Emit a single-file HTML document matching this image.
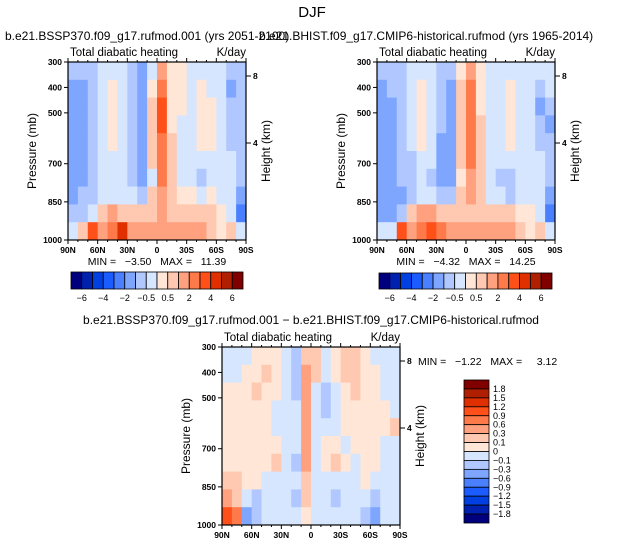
<!DOCTYPE html>
<html><head><meta charset="utf-8"><style>
body{margin:0;background:#fff;width:625px;height:545px;overflow:hidden}
svg{display:block}
text{font-family:"Liberation Sans",sans-serif;fill:#000}
</style></head><body>
<svg id="s" width="625" height="545"></svg>
<script>
const lats=["85N","75N","65N","55N","45N","35N","25N","15N","5N","5S","15S","25S","35S","45S","55S","65S","75S","85S"];
const presTicks=[300,400,500,700,850,1000];
const latTicks=["90N","60N","30N","0","30S","60S","90S"];
const levelsAbs=[-6,-5,-4,-3,-2,-1,-0.5,0,0.5,1,2,3,4,5,6];
const levelsAbsLabels=["-6","-4","-2","-0.5","0.5","2","4","6"];
const levelsDiff=[-1.8,-1.5,-1.2,-0.9,-0.6,-0.3,-0.1,0,0.1,0.3,0.6,0.9,1.2,1.5,1.8];
const levelsDiffLabels=["1.8","1.5","1.2","0.9","0.6","0.3","0.1","0","-0.1","-0.3","-0.6","-0.9","-1.2","-1.5","-1.8"];
const palette=["#00007f","#0020b0","#0040e0","#1a5cff","#4a80ff","#7ea6ff","#b0c8ff","#d6e6ff","#ffe6d6","#ffc8b0","#ffa07e","#ff7a4a","#ff501a","#e03000","#b02000","#800000"];
const ssp=[
[-0.7,-0.7,-0.7,-0.3,-0.3,-0.3,-0.7,-1.5,-0.3,1.5,0.3,0.3,-0.3,-0.3,-0.3,-0.3,-0.7,-0.7],
[-1.5,-1.5,-0.7,-0.3,0.3,-0.3,-0.7,-1.5,0.3,2.5,0.3,0.3,-0.3,0.3,-0.3,-0.3,-1.5,-0.7],
[-1.5,-1.5,-0.7,-0.3,0.3,-0.3,-0.7,-1.5,0.7,3.5,0.3,0.3,-0.3,0.3,0.3,-0.3,-0.7,-0.7],
[-1.5,-1.5,-0.7,-0.3,0.3,-0.3,-0.7,-1.5,0.7,3.5,0.3,-0.3,-0.3,0.3,0.3,-0.3,-0.7,-0.7],
[-1.5,-1.5,-0.7,-0.3,0.3,-0.3,-0.7,-1.5,0.7,2.5,0.7,-0.3,-0.3,0.3,0.3,-0.3,-0.7,-0.7],
[-1.5,-1.5,-0.7,-0.3,-0.3,-0.3,-0.7,-1.5,0.7,2.5,0.7,-0.3,-0.3,-0.3,-0.3,-0.3,-0.3,-0.7],
[-1.5,-1.5,-0.7,-0.3,-0.3,-0.3,-0.7,-1.5,-0.3,2.5,0.7,-0.3,-0.3,-0.7,-0.3,-0.3,-0.3,-0.7],
[-1.5,-0.7,-0.7,-0.3,-0.3,-0.3,-0.3,-0.7,0.7,1.5,0.7,0.3,0.3,-0.3,0.3,-0.3,-0.3,-1.5],
[-0.7,-0.7,-0.3,0.7,1.5,0.7,0.7,0.7,0.7,1.5,0.7,0.7,0.7,0.7,0.7,0.3,-0.3,-2.5],
[-0.3,0.7,3.5,1.5,2.5,4.5,1.5,1.5,1.5,1.5,1.5,1.5,1.5,1.5,0.7,0.3,0.7,-0.3]];
const hist=[
[-0.7,-0.7,-0.7,-0.3,-0.3,-0.3,-0.7,-0.7,0.3,1.5,0.3,-0.3,-0.3,-0.3,-0.3,-0.3,-0.3,-0.3],
[-1.5,-0.7,-0.7,-0.3,0.3,-0.3,-0.7,-1.5,0.7,2.5,0.3,-0.3,-0.3,0.3,-0.3,-0.3,-0.7,-0.3],
[-1.5,-1.5,-0.7,-0.3,0.3,-0.3,-0.7,-1.5,0.7,2.5,0.3,-0.3,-0.3,0.3,-0.3,-0.3,-1.5,-0.7],
[-1.5,-1.5,-0.7,-0.3,0.3,-0.3,-0.7,-1.5,0.7,2.5,0.7,-0.3,-0.3,0.3,-0.3,-0.3,-0.7,-1.5],
[-1.5,-1.5,-0.7,-0.3,0.3,-0.3,-1.5,-1.5,0.7,2.5,0.7,-0.3,-0.3,0.3,-0.3,-0.3,-0.7,-0.7],
[-1.5,-1.5,-0.7,-0.7,-0.3,-0.3,-1.5,-1.5,0.7,2.5,0.7,-0.3,-0.3,-0.3,-0.3,-0.3,-0.3,-0.7],
[-1.5,-1.5,-0.7,-0.7,-0.3,-0.7,-1.5,-1.5,0.3,1.5,0.7,-0.3,-0.7,-0.7,-0.3,-0.3,-0.3,-0.7],
[-1.5,-1.5,-1.5,-0.7,-0.3,-0.3,-0.7,-0.7,0.7,1.5,0.7,-0.3,-0.3,-0.7,-0.3,-0.3,-0.3,-1.5],
[-1.5,-1.5,-0.7,0.7,1.5,1.5,0.7,0.7,0.7,0.7,0.7,0.7,0.7,0.7,0.3,0.3,-0.3,-2.5],
[-0.3,-0.3,3.5,1.5,2.5,3.5,2.5,1.5,1.5,1.5,1.5,1.5,1.5,1.5,0.7,0.3,0.7,-0.3]];
const diff=[
[-0.05,-0.05,-0.05,0.05,0.05,0.05,-0.05,-0.2,0.2,0.2,-0.05,0.05,0.2,0.2,0.05,-0.05,-0.05,-0.05],
[-0.05,-0.05,0.05,0.05,0.2,0.05,-0.05,-0.2,0.4,0.2,-0.05,0.05,0.2,0.2,0.05,0.05,-0.05,-0.05],
[0.05,0.05,0.05,0.2,0.05,0.05,-0.05,-0.2,0.4,-0.05,-0.2,-0.05,0.05,0.2,0.05,0.05,-0.05,-0.05],
[0.05,0.05,0.05,0.05,0.05,-0.05,-0.05,-0.05,0.4,-0.05,-0.2,-0.05,0.05,0.05,0.05,0.05,0.05,-0.05],
[0.05,0.05,0.05,0.05,0.05,-0.05,-0.05,-0.05,0.4,-0.05,-0.05,-0.05,0.05,0.05,0.05,0.05,0.05,0.2],
[0.05,0.05,0.05,0.05,0.05,0.05,-0.05,-0.05,0.4,-0.05,0.05,0.05,-0.05,0.05,0.05,0.05,-0.05,-0.05],
[0.05,0.05,0.05,0.05,0.05,0.2,-0.05,-0.2,0.4,-0.05,0.05,0.2,0.05,-0.05,0.05,0.05,-0.05,-0.05],
[0.2,0.2,0.05,0.05,-0.05,-0.05,-0.05,-0.05,0.2,-0.05,-0.05,-0.05,-0.05,-0.05,0.05,-0.05,-0.05,-0.05],
[0.4,0.2,-0.05,-0.2,-0.05,-0.05,-0.05,-0.2,0.2,-0.05,-0.05,-0.2,-0.05,-0.05,-0.05,-0.2,-0.05,-0.05],
[1.0,0.7,-0.4,-0.2,-0.05,-0.05,-0.05,-0.05,0.05,-0.05,-0.05,-0.05,-0.05,-0.05,-0.2,-0.4,-0.05,-0.05]];

const NS="http://www.w3.org/2000/svg";
const svg=document.getElementById('s');
function mk(tag,attrs,parent){const e=document.createElementNS(NS,tag);for(const k in attrs)e.setAttribute(k,attrs[k]);(parent||svg).appendChild(e);return e;}
function txt(x,y,s,size,anchor,name,parent,rot){const t=mk('text',{x:x,y:y,'font-size':size,'text-anchor':anchor||'start'},parent);if(rot)t.setAttribute('transform','rotate(-90 '+x+' '+y+')');t.textContent=s;

return t;}
function colorFor(v,lev){let i=0;while(i<lev.length&&v>=lev[i])i++;return palette[i];}

function panel(px,py,data,lev,id){
  const W=178,H=178;
  const g=mk('g',{});
  
  
  const xs=lat=>px+(90-lat)/180*W;
  const ys=p=>py+(p-300)/700*H;
  const nr=data.length,nc=lats.length;
  for(let r=0;r<nr;r++)for(let c=0;c<nc;c++){
    const p0=300+r*700/nr,p1=300+(r+1)*700/nr;
    const l0=90-c*180/nc,l1=90-(c+1)*180/nc;
    const rc=mk('rect',{x:xs(l0),y:ys(p0),width:xs(l1)-xs(l0)+0.5,height:ys(p1)-ys(p0)+0.5,fill:colorFor(data[r][c],lev)},g);
    
    
  }
  mk('rect',{x:px,y:py,width:W,height:H,fill:'none',stroke:'#000','stroke-width':1.2},g);
  presTicks.forEach(p=>{const y=ys(p);mk('line',{x1:px-4,y1:y,x2:px,y2:y,stroke:'#000'},g);txt(px-6,y+3,String(p),8.5,'end','pressure-tick-label',g).setAttribute('font-weight','bold');});
  [90,60,30,0,-30,-60,-90].forEach((l,i)=>{const x=xs(l);mk('line',{x1:x,y1:py+H,x2:x,y2:py+H+4,stroke:'#000'},g);mk('line',{x1:x,y1:py,x2:x,y2:py-4,stroke:'#000'},g);txt(x,py+H+13,latTicks[i],8.5,'middle','lat-tick-label',g).setAttribute('font-weight','bold');});
  for(let l=80;l>-90;l-=10){if(l%30){const x=xs(l);mk('line',{x1:x,y1:py+H,x2:x,y2:py+H+2,stroke:'#000'},g);mk('line',{x1:x,y1:py,x2:x,y2:py-2,stroke:'#000'},g);}}
  [[8,76-62],[4,143-62]].forEach(h=>{const y=py+h[1];mk('line',{x1:px+W,y1:y,x2:px+W+5,y2:y,stroke:'#000'},g);txt(px+W+7,y+3,String(h[0]),8.5,'start','height-tick-label',g).setAttribute('font-weight','bold');});
  txt(px-32,py+H/2,'Pressure (mb)',12,'middle','y-axis-title',g,true);
  txt(px+W+24,py+H/2,'Height (km)',12,'middle','right-axis-title',g,true);
  txt(px+2,py-6,'Total diabatic heating',11.5,'start','subtitle',g);
  txt(px+W,py-6,'K/day',11.5,'end','units-label',g);
}
function hbar(x,y,w,h,lev,labels){
  const g=mk('g',{});
  
  
  const bw=w/palette.length;
  palette.forEach((c,i)=>{const r=mk('rect',{x:x+i*bw,y:y,width:bw,height:h,fill:c,stroke:'#000','stroke-width':0.8},g);});
  labels.forEach((s,i)=>txt(x+(2*i+1)*bw,y+h+12,s.replace('-','\u2212'),9,'middle','colorbar-label',g));
}
function vbar(x,y,w,h,labels){
  const g=mk('g',{});
  
  
  const bh=h/palette.length;
  for(let i=0;i<palette.length;i++){const r=mk('rect',{x:x,y:y+i*bh,width:w,height:bh,fill:palette[palette.length-1-i],stroke:'#000','stroke-width':0.8},g);}
  labels.forEach((s,i)=>txt(x+w+4,y+(i+1)*bh+3,s.replace('-','\u2212'),9,'start','colorbar-label',g));
}
txt(312,17,'DJF',15,'middle','figure-title');
txt(5,40,'b.e21.BSSP370.f09_g17.rufmod.001 (yrs 2051-2100)',12,'start','panel1-title');
txt(259,40,'b.e21.BHIST.f09_g17.CMIP6-historical.rufmod (yrs 1965-2014)',12,'start','panel2-title');
panel(68,62,ssp,levelsAbs,'ssp');
panel(377,62,hist,levelsAbs,'hist');
panel(222,347,diff,levelsDiff,'diff');
txt(157,265,'MIN =   \u22123.50   MAX =   11.39',10.5,'middle','panel1-minmax').setAttribute('xml:space','preserve');
txt(466,265,'MIN =   \u22124.32   MAX =   14.25',10.5,'middle','panel2-minmax').setAttribute('xml:space','preserve');
txt(418,365,'MIN =   \u22121.22   MAX =     3.12',10.5,'start','panel3-minmax').setAttribute('xml:space','preserve');
txt(311,324,'b.e21.BSSP370.f09_g17.rufmod.001 \u2212 b.e21.BHIST.f09_g17.CMIP6-historical.rufmod',12,'middle','panel3-title');
hbar(71,272,172,17,levelsAbs,levelsAbsLabels);
hbar(379,273,173,16,levelsAbs,levelsAbsLabels);
vbar(464,380,25,143,levelsDiffLabels);
document.querySelectorAll('text').forEach(t=>t.style.whiteSpace='pre');
</script>
</body></html>
